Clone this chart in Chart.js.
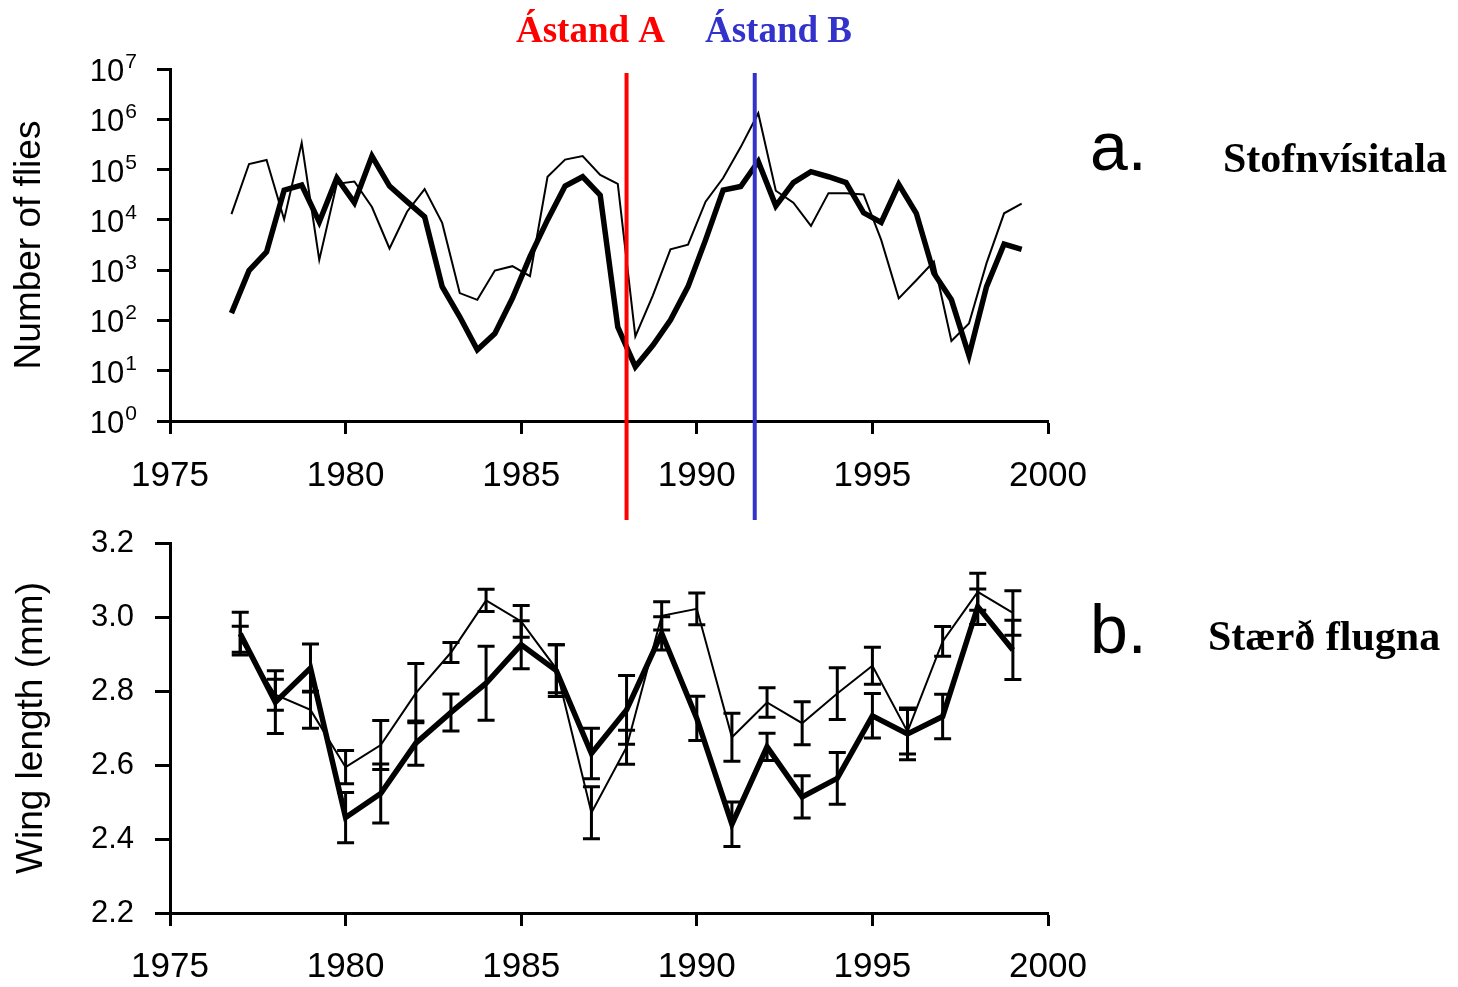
<!DOCTYPE html>
<html>
<head>
<meta charset="utf-8">
<title>Flies</title>
<script src="https://cdn.jsdelivr.net/npm/chart.js@4.4.0/dist/chart.umd.min.js"></script>
<style>
  body { margin: 0; background: #fff; }
  canvas { position: absolute; left: 0; }
</style>
</head>
<body>
<canvas id="fliesChart" width="1458" height="525" style="top:0"></canvas>
<canvas id="wingChart" width="1458" height="462" style="top:525px"></canvas>
<script>
// --- panel a: number of flies (half-year samples) ---
const halfYears = [1976.75, 1977.25, 1977.75, 1978.25, 1978.75, 1979.25, 1979.75, 1980.25, 1980.75, 1981.25,
  1981.75, 1982.25, 1982.75, 1983.25, 1983.75, 1984.25, 1984.75, 1985.25, 1985.75, 1986.25,
  1986.75, 1987.25, 1987.75, 1988.25, 1988.75, 1989.25, 1989.75, 1990.25, 1990.75, 1991.25,
  1991.75, 1992.25, 1992.75, 1993.25, 1993.75, 1994.25, 1994.75, 1995.25, 1995.75, 1996.25,
  1996.75, 1997.25, 1997.75, 1998.25, 1998.75, 1999.25];
const fliesThick = [140, 980, 2300, 39000, 49000, 9100, 68000, 22000, 186000, 47000,
  23000, 11500, 470, 118, 26, 55, 275, 1860, 10000, 47000,
  72000, 31000, 74, 12, 32, 102, 470, 4000, 39000, 46000,
  145000, 19000, 55000, 91000, 72000, 55000, 13800, 8900, 51000, 13500,
  870, 257, 20, 470, 3300, 2600];
const fliesThin = [13000, 129000, 155000, 10200, 340000, 1600, 52000, 58000, 18000, 2700,
  14500, 41000, 8700, 350, 257, 980, 1200, 760, 72000, 158000,
  186000, 78000, 52000, 48, 316, 2600, 3200, 23000, 68000, 280000,
  1320000, 38000, 22000, 7600, 34000, 34000, 32000, 4000, 275, 630,
  1480, 39, 87, 1380, 13500, 21000];
const fliesTicks = [1, 10, 100, 1000, 10000, 100000, 1000000, 10000000];

// --- panel b: wing length, yearly means with error bars ---
const wingYears = [1977, 1978, 1979, 1980, 1981, 1982, 1983, 1984, 1985, 1986, 1987, 1988,
  1989, 1990, 1991, 1992, 1993, 1994, 1995, 1996, 1997, 1998, 1999];
const wingThick = [2.955, 2.77, 2.862, 2.458, 2.523, 2.659, 2.742, 2.821, 2.925, 2.855, 2.631, 2.749,
  2.956, 2.726, 2.44, 2.649, 2.514, 2.564, 2.733, 2.684, 2.731, 3.028, 2.911];
const wingThickErr = [0.058, 0.085, 0.065, 0.068, 0.08, 0.06, 0.05, 0.1, 0.065, 0.07, 0.068, 0.093,
  0.045, 0.06, 0.06, 0.037, 0.057, 0.07, 0.06, 0.07, 0.06, 0.048, 0.08];
const wingThin = [2.94, 2.79, 2.749, 2.594, 2.654, 2.794, 2.904, 3.045, 2.988, 2.86, 2.471, 2.648,
  3.003, 3.022, 2.675, 2.769, 2.713, 2.793, 2.868, 2.69, 2.934, 3.068, 3.011];
const wingThinErr = [0.035, 0.042, 0.05, 0.045, 0.066, 0.08, 0.027, 0.03, 0.043, 0.065, 0.07, 0.046,
  0.038, 0.043, 0.065, 0.04, 0.058, 0.07, 0.05, 0.06, 0.04, 0.05, 0.06];
const wingTicks = [2.2, 2.4, 2.6, 2.8, 3.0, 3.2];

const yearTicks = [1975, 1980, 1985, 1990, 1995, 2000];
const stateYears = [1988.0, 1991.65];
const stateLabels = ['Ástand A', 'Ástand B'];
const stateColors = ['#ff0000', '#3333cc'];

const SANS = "'Liberation Sans', Arial, sans-serif";
const SERIF = "'Liberation Serif', 'Times New Roman', serif";

function pts(xs, ys) { return xs.map((x, i) => ({ x: x, y: ys[i] })); }

function xAxis(h, pad) {
  return {
    type: 'linear', min: 1975, max: 2000,
    afterBuildTicks: s => { s.ticks = yearTicks.map(v => ({ value: v })); },
    afterFit: s => { s.height = h; },
    grid: { drawOnChartArea: false, drawTicks: true, tickLength: 13, tickWidth: 3, tickColor: '#000' },
    border: { color: '#000', width: 3 },
    ticks: { color: '#000', font: { family: SANS, size: 35 }, padding: pad, maxRotation: 0,
      autoSkip: false, callback: v => String(v) }
  };
}

function yAxis(type, min, max, tickVals, tickLen, title, titlePad) {
  return {
    type: type, min: min, max: max,
    afterBuildTicks: s => { s.ticks = tickVals.map(v => ({ value: v })); },
    afterFit: s => { s.width = 170; },
    grid: { drawOnChartArea: false, drawTicks: true, tickLength: tickLen, tickWidth: 3, tickColor: '#000' },
    border: { color: '#000', width: 3 },
    ticks: { display: false },
    title: { display: true, text: title, color: '#000',
      font: { family: SANS, size: 37 }, padding: { top: titlePad, bottom: 0 } }
  };
}

// log axis labels as 10 with a raised exponent
const powerLabels = {
  id: 'powerLabels',
  afterDraw(chart) {
    const ctx = chart.ctx, y = chart.scales.y;
    ctx.save();
    ctx.fillStyle = '#000';
    ctx.textAlign = 'right';
    ctx.textBaseline = 'alphabetic';
    fliesTicks.forEach(v => {
      const py = y.getPixelForValue(v);
      const exp = String(Math.round(Math.log10(v)));
      ctx.font = '21px ' + SANS;
      ctx.fillText(exp, 137, py - 1);
      const w = ctx.measureText(exp).width;
      ctx.font = '31px ' + SANS;
      ctx.fillText('10', 137 - w - 1, py + 12);
    });
    ctx.restore();
  }
};

const stateLines = {
  id: 'stateLines',
  afterDraw(chart) {
    const ctx = chart.ctx, x = chart.scales.x;
    ctx.save();
    stateYears.forEach((yr, i) => {
      const px = x.getPixelForValue(yr);
      ctx.strokeStyle = stateColors[i];
      ctx.lineWidth = 4;
      ctx.beginPath();
      ctx.moveTo(px, 73);
      ctx.lineTo(px, 520);
      ctx.stroke();
    });
    ctx.font = 'bold 37px ' + SERIF;
    ctx.textBaseline = 'alphabetic';
    ctx.fillStyle = stateColors[0];
    ctx.fillText(stateLabels[0], 516, 42);
    ctx.fillStyle = stateColors[1];
    ctx.fillText(stateLabels[1], 705, 42);
    ctx.fillStyle = '#000';
    ctx.font = '68px ' + SANS;
    ctx.fillText('a.', 1090, 170);
    ctx.font = 'bold 42px ' + SERIF;
    ctx.fillText('Stofnvísitala', 1223, 172);
    ctx.restore();
  }
};

new Chart(document.getElementById('fliesChart'), {
  type: 'line',
  data: {
    datasets: [
      { data: pts(halfYears, fliesThin), borderColor: '#000', borderWidth: 2, pointRadius: 0 },
      { data: pts(halfYears, fliesThick), borderColor: '#000', borderWidth: 5.5, pointRadius: 0 }
    ]
  },
  options: {
    responsive: false, animation: false, devicePixelRatio: 1,
    layout: { padding: { left: 0, right: 410, top: 69, bottom: 0 } },
    plugins: { legend: { display: false }, tooltip: { enabled: false } },
    scales: {
      x: xAxis(104, 21),
      y: yAxis('logarithmic', 1, 10000000, fliesTicks, 13, 'Number of flies', 8)
    }
  },
  plugins: [powerLabels, stateLines]
});

const errorBars = {
  id: 'errorBars',
  afterDatasetsDraw(chart) {
    const ctx = chart.ctx, x = chart.scales.x, y = chart.scales.y;
    const sets = [[wingThin, wingThinErr], [wingThick, wingThickErr]];
    ctx.save();
    ctx.strokeStyle = '#000';
    ctx.lineWidth = 3;
    sets.forEach(([vals, errs]) => {
      wingYears.forEach((yr, i) => {
        const px = x.getPixelForValue(yr);
        const top = y.getPixelForValue(vals[i] + errs[i]);
        const bot = y.getPixelForValue(vals[i] - errs[i]);
        ctx.beginPath();
        ctx.moveTo(px, top); ctx.lineTo(px, bot);
        ctx.moveTo(px - 8.5, top); ctx.lineTo(px + 8.5, top);
        ctx.moveTo(px - 8.5, bot); ctx.lineTo(px + 8.5, bot);
        ctx.stroke();
      });
    });
    ctx.restore();
  },
  afterDraw(chart) {
    const ctx = chart.ctx, y = chart.scales.y;
    ctx.save();
    ctx.fillStyle = '#000';
    ctx.textAlign = 'right';
    ctx.textBaseline = 'middle';
    ctx.font = '31px ' + SANS;
    wingTicks.forEach(v => {
      ctx.fillText(v.toFixed(1), 134, y.getPixelForValue(v));
    });
    ctx.textAlign = 'left';
    ctx.textBaseline = 'alphabetic';
    ctx.font = '68px ' + SANS;
    ctx.fillText('b.', 1090, 128);
    ctx.font = 'bold 42px ' + SERIF;
    ctx.fillText('Stærð flugna', 1208, 125);
    ctx.restore();
  }
};

new Chart(document.getElementById('wingChart'), {
  type: 'line',
  data: {
    datasets: [
      { data: pts(wingYears, wingThin), borderColor: '#000', borderWidth: 2, pointRadius: 0 },
      { data: pts(wingYears, wingThick), borderColor: '#000', borderWidth: 5.5, pointRadius: 0 }
    ]
  },
  options: {
    responsive: false, animation: false, devicePixelRatio: 1,
    layout: { padding: { left: 0, right: 410, top: 18, bottom: 0 } },
    plugins: { legend: { display: false }, tooltip: { enabled: false } },
    scales: {
      x: xAxis(74, 20),
      y: yAxis('linear', 2.2, 3.2, wingTicks, 15, 'Wing length (mm)', 10)
    }
  },
  plugins: [errorBars]
});
</script>
</body>
</html>
